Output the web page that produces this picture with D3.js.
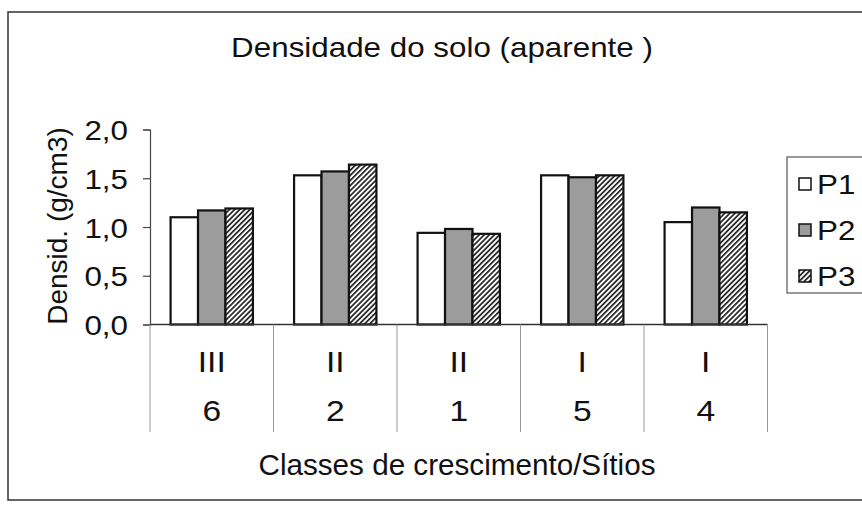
<!DOCTYPE html>
<html><head><meta charset="utf-8">
<script src="https://cdn.jsdelivr.net/npm/d3@7"></script>
<style>body{margin:0;background:#fff}svg{display:block}text{font-family:"Liberation Sans",Arial,sans-serif;fill:#111}</style>
</head><body>
<svg id="c" width="862" height="505"></svg>
<script>
const classes = ["III","II","II","I","I"];
const sites = ["6","2","1","5","4"];
const seriesNames = ["P1","P2","P3"];
const p1 = [1.10,1.53,0.94,1.53,1.05];
const p2 = [1.17,1.57,0.98,1.51,1.20];
const p3 = [1.19,1.64,0.93,1.53,1.15];
const yTicks = [0,0.5,1.0,1.5,2.0];
const title = "Densidade do solo (aparente )";
const yTitle = "Densid. (g/cm3)";
const xTitle = "Classes de crescimento/Sítios";

const SX = 1.12; // horizontal stretch of the reference lettering
const svg = d3.select("#c");
const defs = svg.append("defs");
const pat = defs.append("pattern").attr("id","hatch").attr("patternUnits","userSpaceOnUse")
  .attr("width",3.6).attr("height",3.6).attr("patternTransform","rotate(45)");
pat.append("rect").attr("width",3.6).attr("height",3.6).attr("fill","#fff");
pat.append("rect").attr("x",0).attr("width",1.7).attr("height",3.6).attr("fill","#222");

const fills = ["#ffffff","#9c9c9c","url(#hatch)"];
const values = [p1,p2,p3];

function stext(px, py, str, size, anchor){
  return svg.append("text")
    .attr("transform",`translate(${px},${py}) scale(${SX},1)`)
    .attr("text-anchor",anchor||"middle").attr("font-size",size).text(str);
}

// outer frame
svg.append("rect").attr("x",8).attr("y",12).attr("width",880).attr("height",488)
  .attr("fill","none").attr("stroke","#333").attr("stroke-width",1.5);

stext(442,57,title,28);

const idx = d3.range(classes.length);
const x = d3.scaleBand().domain(idx).range([150,767.5]).paddingInner(0).paddingOuter(0);
const xs = d3.scaleBand().domain(d3.range(seriesNames.length)).range([0,x.bandwidth()]).paddingInner(0).paddingOuter(0.75);
const y = d3.scaleLinear().domain([0,2]).range([324.5,129.5]);

// y axis
const yAxis = d3.axisLeft(y).tickValues(yTicks).tickSize(7).tickPadding(15)
  .tickFormat(d=>d3.format(".1f")(d).replace(".",","));
const gy = svg.append("g").attr("transform","translate(150,0)").call(yAxis);
gy.select(".domain").attr("stroke","#444").attr("stroke-width",1.2);
gy.selectAll(".tick line").attr("stroke","#444").attr("stroke-width",1.2);
gy.selectAll(".tick text").attr("font-size",28).attr("font-family","Liberation Sans, Arial, sans-serif")
  .attr("fill","#111").attr("x",null).attr("dy","0.36em")
  .attr("transform",`translate(-22,0) scale(${SX},1)`);

svg.append("text").attr("transform","translate(67,226) rotate(-90)").attr("text-anchor","middle")
  .attr("font-size",28).text(yTitle);

// bars
idx.forEach(i=>{
  seriesNames.forEach((s,j)=>{
    svg.append("rect")
      .attr("x",x(i)+xs(j)).attr("y",y(values[j][i]))
      .attr("width",xs.bandwidth()).attr("height",y(0)-y(values[j][i]))
      .attr("fill",fills[j]).attr("stroke","#111").attr("stroke-width",2.2);
  });
});

// x axis line
svg.append("line").attr("x1",150).attr("x2",767.5).attr("y1",y(0)).attr("y2",y(0))
  .attr("stroke","#333").attr("stroke-width",1.5);
// separators
const bounds = idx.map(i=>x(i)).concat([x(idx[idx.length-1])+x.bandwidth()]);
svg.selectAll(".sep").data(bounds).enter().append("line")
  .attr("x1",d=>d).attr("x2",d=>d).attr("y1",y(0)).attr("y2",432)
  .attr("stroke","#999").attr("stroke-width",1);

idx.forEach(i=>{
  stext(x(i)+x.bandwidth()/2,372,classes[i],30);
  stext(x(i)+x.bandwidth()/2,421,sites[i],30);
});

svg.append("text").attr("x",457).attr("y",475).attr("text-anchor","middle")
  .attr("font-size",29).attr("textLength",397).attr("lengthAdjust","spacingAndGlyphs").text(xTitle);

// legend
svg.append("rect").attr("x",787).attr("y",157).attr("width",100).attr("height",136)
  .attr("fill","#fff").attr("stroke","#555").attr("stroke-width",1.2);
seriesNames.forEach((s,j)=>{
  const cy = 184 + j*46;
  svg.append("rect").attr("x",799).attr("y",cy-6).attr("width",12).attr("height",12)
    .attr("fill",fills[j]).attr("stroke","#111").attr("stroke-width",1.5);
  stext(817,cy+10,s,28,"start");
});
</script>
</body></html>
